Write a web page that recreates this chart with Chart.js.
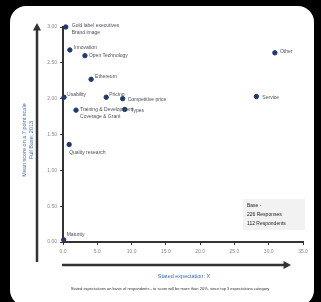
<!DOCTYPE html>
<html>
<head>
<meta charset="utf-8">
<script src="https://cdn.jsdelivr.net/npm/chart.js@4"></script>
<style>
  body { margin: 0; background: #000; }
  #card { position: absolute; left: 10px; top: 6px; width: 304px; height: 300px; background: #fff; border-radius: 16px; }
  canvas { position: absolute; left: 0; top: 0; }
</style>
</head>
<body>
<div id="card"></div>
<canvas id="chart" width="321" height="302"></canvas>
<script>
const labels = ['Gold label executives|Brand image', 'Innovation', 'Open Technology', 'Ethereum', 'Usability',
  'Pricing', 'Competitive price', 'Training & Development|Coverage & Grant', 'Types', 'Quality research',
  'Other', 'Service', 'Maturity'];
const xValues = [0.4, 1.0, 3.2, 4.1, 0.15, 6.3, 8.7, 1.9, 9.0, 0.9, 30.9, 28.2, 0.1];
const yValues = [3.0, 2.68, 2.6, 2.27, 2.02, 2.02, 2.0, 1.84, 1.85, 1.36, 2.64, 2.03, 0.03];
const xTicks = [0, 5, 10, 15, 20, 25, 30, 35];
const yTicks = [0, 0.5, 1.0, 1.5, 2.0, 2.5, 3.0];
const baseNote = ['Base -', '226 Responses', '112 Respondents'];

const FONT = '"Liberation Sans", Arial, sans-serif';
// label offsets from the point [dx, dy]
const offsets = [[6, -1], [4, -2], [4, 0], [4, -3], [3, -3], [3, -3], [5, 1], [4, -1], [6, 1], [0, 8], [5, -1], [6, 1], [3, -5]];

function arrow(ctx, x1, y1, x2, y2) {
  ctx.beginPath();
  ctx.moveTo(x1, y1);
  ctx.lineTo(x2, y2);
  ctx.stroke();
  const a = Math.atan2(y2 - y1, x2 - x1);
  ctx.beginPath();
  ctx.moveTo(x2 + Math.cos(a) * 3, y2 + Math.sin(a) * 3);
  ctx.lineTo(x2 + Math.cos(a + 2.4) * 6, y2 + Math.sin(a + 2.4) * 6);
  ctx.lineTo(x2 + Math.cos(a - 2.4) * 6, y2 + Math.sin(a - 2.4) * 6);
  ctx.closePath();
  ctx.fill();
}

const extras = {
  id: 'extras',
  afterDatasetsDraw(chart) {
    const ctx = chart.ctx;
    const xs = chart.scales.x, ys = chart.scales.y;
    ctx.save();
    ctx.font = '5px ' + FONT;
    ctx.fillStyle = '#4a4f5c';
    ctx.textBaseline = 'middle';
    labels.forEach((lab, i) => {
      const px = xs.getPixelForValue(xValues[i]);
      const py = ys.getPixelForValue(yValues[i]);
      const [dx, dy] = offsets[i];
      lab.split('|').forEach((line, k) => {
        ctx.fillText(line, px + dx, py + dy + k * 7);
      });
    });

    // outer arrows
    ctx.strokeStyle = '#333';
    ctx.fillStyle = '#333';
    ctx.lineWidth = 2.5;
    arrow(ctx, 37, 262, 37, 26);
    arrow(ctx, 62, 265, 288, 265);

    // y title
    ctx.fillStyle = '#3a6ab0';
    ctx.font = '5.5px ' + FONT;
    ctx.textAlign = 'center';
    ctx.save();
    ctx.translate(24, 140);
    ctx.rotate(-Math.PI / 2);
    ctx.fillText('Mean score on a 7 point scale', 0, 0);
    ctx.fillText('Full Base: 2013', 0, 7);
    ctx.restore();

    // x title and footnote
    ctx.fillText('Stated expectation: X', 184, 276);
    ctx.fillStyle = '#333';
    ctx.font = '4px ' + FONT;
    ctx.fillText('Stated expectations on basis of respondents - to score will be more than 20%, since top 3 expectations category', 170, 289);

    // base box
    ctx.fillStyle = '#f2f2f2';
    ctx.fillRect(243, 199, 62, 31);
    ctx.fillStyle = '#222';
    ctx.font = '5px ' + FONT;
    ctx.textAlign = 'left';
    baseNote.forEach((t, k) => ctx.fillText(t, 247, 206 + k * 9));
    ctx.restore();
  }
};

new Chart(document.getElementById('chart'), {
  type: 'scatter',
  data: {
    datasets: [{
      data: xValues.map((x, i) => ({ x: x, y: yValues[i] })),
      backgroundColor: '#1f3a6e',
      borderColor: '#1f3a6e',
      pointRadius: 2.2,
      clip: false
    }]
  },
  options: {
    responsive: false,
    animation: false,
    layout: { padding: { left: 40, top: 27, right: 18, bottom: 42 } },
    plugins: { legend: { display: false }, tooltip: { enabled: false } },
    scales: {
      x: {
        min: 0, max: 35,
        afterBuildTicks: s => { s.ticks = xTicks.map(v => ({ value: v })); },
        afterFit: s => { s.height = 18; },
        border: { color: '#333', width: 2 },
        grid: { drawOnChartArea: false, color: '#333', tickLength: 3 },
        ticks: { font: { size: 5, family: FONT }, color: '#888', padding: 4, callback: v => v.toFixed(1) }
      },
      y: {
        min: 0, max: 3,
        afterBuildTicks: s => { s.ticks = yTicks.map(v => ({ value: v })); },
        afterFit: s => { s.width = 23; },
        border: { color: '#333', width: 2 },
        grid: { drawOnChartArea: false, color: '#333', tickLength: 3 },
        ticks: { font: { size: 5, family: FONT }, color: '#888', padding: 3, callback: v => v.toFixed(2) }
      }
    }
  },
  plugins: [extras]
});
</script>
</body>
</html>
